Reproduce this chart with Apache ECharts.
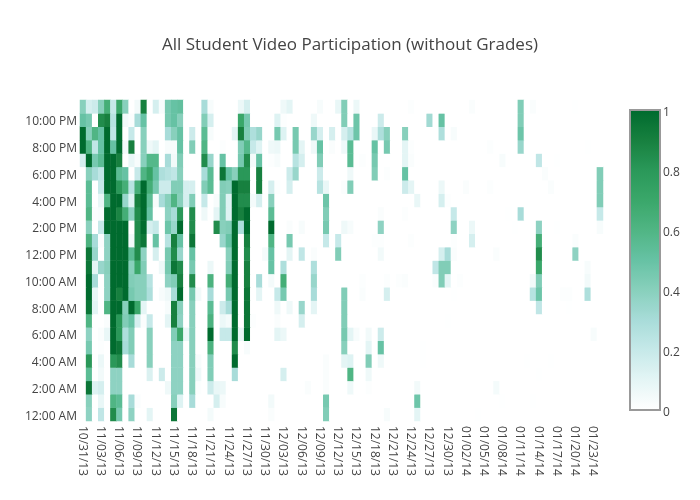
<!DOCTYPE html>
<html>
<head>
<meta charset="utf-8">
<title>All Student Video Participation</title>
<script src="https://cdn.jsdelivr.net/npm/echarts@6/dist/echarts.min.js"></script>
<style>
  html, body { margin: 0; background: #fff; }
  #chart { width: 700px; height: 500px; }
</style>
</head>
<body>
<div id="chart"></div>
<script>
// dates on the x axis, one per column
const dayLabels = [
  '10/31/13','11/01/13','11/02/13','11/03/13','11/04/13','11/05/13','11/06/13','11/07/13','11/08/13','11/09/13',
  '11/10/13','11/11/13','11/12/13','11/13/13','11/14/13','11/15/13','11/16/13','11/17/13','11/18/13','11/19/13',
  '11/20/13','11/21/13','11/22/13','11/23/13','11/24/13','11/25/13','11/26/13','11/27/13','11/28/13','11/29/13',
  '11/30/13','12/01/13','12/02/13','12/03/13','12/04/13','12/05/13','12/06/13','12/07/13','12/08/13','12/09/13',
  '12/10/13','12/11/13','12/12/13','12/13/13','12/14/13','12/15/13','12/16/13','12/17/13','12/18/13','12/19/13',
  '12/20/13','12/21/13','12/22/13','12/23/13','12/24/13','12/25/13','12/26/13','12/27/13','12/28/13','12/29/13',
  '12/30/13','12/31/13','01/01/14','01/02/14','01/03/14','01/04/14','01/05/14','01/06/14','01/07/14','01/08/14',
  '01/09/14','01/10/14','01/11/14','01/12/14','01/13/14','01/14/14','01/15/14','01/16/14','01/17/14','01/18/14',
  '01/19/14','01/20/14','01/21/14','01/22/14','01/23/14','01/24/14'
]
const hourLabels = [
  '12:00 AM','1:00 AM','2:00 AM','3:00 AM','4:00 AM','5:00 AM','6:00 AM','7:00 AM','8:00 AM','9:00 AM','10:00 AM','11:00 AM',
  '12:00 PM','1:00 PM','2:00 PM','3:00 PM','4:00 PM','5:00 PM','6:00 PM','7:00 PM','8:00 PM','9:00 PM','10:00 PM','11:00 PM'
]

// values per hour, keyed by day column; missing columns are 0
const hour23 = {0:.4,1:.15,2:.18,3:.4,4:.65,5:.2,6:.7,7:.4,9:.05,10:.9,12:.15,13:.03,14:.45,15:.5,16:.52,20:.3,21:.03,26:.07,27:.15,33:.06,34:.1,39:.03,42:.08,43:.42,45:.07,54:.01,64:.02,72:.42,74:.02,81:.005}
const hour22 = {0:.5,1:.45,3:.85,4:.9,5:.25,6:1,7:.05,8:.02,9:.3,10:.5,14:.45,15:.5,16:.4,20:.42,21:.15,26:.7,27:.45,32:.12,33:.01,38:.06,43:.42,45:.48,49:.18,57:.32,59:.5,72:.42}
const hour21 = {0:1,1:.4,2:.6,3:.5,4:1,5:.22,6:1,8:.2,10:.4,14:.3,15:.4,16:.5,18:.18,20:.55,21:.03,25:.1,26:.9,27:.42,28:.28,29:.35,32:.45,33:.12,35:.45,38:.35,39:.15,41:.15,43:.15,44:.25,45:.48,48:.08,49:.28,50:.4,53:.4,59:.28,61:.03,72:.48}
const hour20 = {0:1,1:.6,2:.22,3:.5,4:1,5:.5,6:1,7:.05,8:.9,10:.4,11:.06,12:.1,14:.03,15:.03,16:.5,18:.42,20:.6,23:.01,26:.42,27:.58,28:.2,29:.12,31:.06,32:.07,35:.45,36:.1,38:.06,39:.5,41:.02,43:.06,44:.55,48:.5,50:.45,53:.1,54:.01,67:.01,72:.35,83:.005}
const hour19 = {0:.15,1:1,2:.45,3:.55,4:1,5:1,6:.9,8:.08,9:.03,10:.4,11:.58,12:.58,14:.3,15:.05,16:.42,20:.85,21:.35,23:.5,26:.45,27:.85,28:.04,29:.5,31:.01,32:.03,35:.25,36:.15,39:.42,44:.55,46:.01,48:.45,53:.1,54:.02,69:.03,75:.22,78:.005}
const hour18 = {1:.4,2:.3,3:.22,4:1,5:1,6:.55,7:.5,9:.2,10:.6,11:.72,12:.5,13:.28,14:.25,15:.22,16:.4,20:.3,21:.55,23:.95,24:.5,25:.4,26:.8,27:.8,29:.9,34:.18,35:.35,39:.18,44:.06,48:.42,50:.01,53:.5,76:.02,85:.42}
const hour17 = {1:.55,3:.2,4:1,5:1,6:.8,7:.65,8:.25,9:.65,10:1,11:.65,12:.45,13:.18,14:.18,15:.42,16:.42,17:.15,18:.15,20:.42,21:.55,23:.42,24:.4,25:1,26:.9,27:.9,29:.9,31:.15,32:.01,34:.15,39:.25,40:.08,43:.02,44:.42,53:.18,54:.1,59:.07,63:.02,67:.01,77:.02,85:.42}
const hour16 = {1:.55,3:.08,4:.6,5:1,6:1,7:.35,8:.12,9:.9,10:1,11:.55,12:.03,13:.3,14:.4,15:.6,16:.4,17:.15,18:.42,20:.2,22:.03,23:.42,24:.12,25:1,26:.85,27:.85,28:.04,29:.15,31:.4,40:.48,55:.08,59:.15,60:.01,85:.42}
const hour15 = {1:.6,2:.02,3:.03,4:1,5:1,6:.88,7:.65,8:.38,9:.85,10:1,11:.5,14:.38,15:.3,16:.8,18:.85,20:.06,22:.1,23:.42,24:.12,25:1,26:.9,27:1,31:.55,40:.42,49:.02,53:.01,61:.2,70:.005,72:.3,85:.2}
const hour14 = {1:.4,3:.2,4:1,5:1,6:1,7:1,9:.85,10:1,11:.15,12:.2,14:.48,15:.35,16:1,18:.85,22:.85,23:.4,24:.42,25:1,26:.28,27:1,31:1,34:.02,36:.03,40:.45,43:.06,44:.03,49:.38,61:.38,64:.07,71:.005,75:.38,78:.005,85:.03}
const hour13 = {1:.62,2:.3,3:.02,4:.38,5:1,6:1,7:1,8:.05,9:.85,10:.95,12:.5,14:.25,15:.9,16:.5,18:.95,23:.35,24:.5,25:1,27:.9,31:.6,34:.45,40:.2,42:.2,48:.01,49:.01,54:.01,61:.01,64:.15,75:.65,81:.02}
const hour12 = {1:.95,2:.35,4:.38,5:1,6:1,7:1,8:.55,9:.85,10:.38,12:.15,14:.45,15:.85,16:.35,18:.5,24:.4,25:1,27:.85,30:.04,31:.5,34:.1,36:.22,38:.02,42:.42,49:.05,59:.15,60:.3,61:.02,68:.02,75:.85,81:.38}
const hour11 = {1:.95,2:.1,3:.35,4:.4,5:1,6:1,7:1,8:.4,9:.7,10:.42,13:.06,14:.45,15:.95,16:.85,18:.45,21:.07,24:.42,25:1,27:.9,31:.5,33:.28,38:.28,58:.22,59:.42,60:.42,75:.7,83:.03}
const hour10 = {1:1,2:.3,4:.38,5:1,6:1,7:1,8:.42,9:.4,10:.4,11:.25,14:.38,15:.42,16:.9,18:.85,21:.62,24:.65,25:1,27:.9,29:.3,31:.04,33:.65,38:.35,46:.01,50:.01,52:.01,53:.02,58:.02,59:.42,60:.1,62:.01,74:.05,75:.42,83:.05}
const hour9 = {1:1,2:.08,4:.38,5:1,6:.9,7:1,8:.45,9:.4,10:.4,11:.28,13:.03,14:.06,15:.3,16:1,18:.45,19:.05,21:.3,24:.45,25:1,27:.95,29:.1,32:.2,33:.45,38:.3,43:.42,46:.02,50:.15,61:.005,74:.25,75:.48,79:.01,80:.01,83:.28}
const hour8 = {1:.95,2:.1,4:.6,5:1,6:1,7:.4,8:1,9:.7,10:.1,14:.03,15:.9,16:.4,18:.4,21:.55,23:.18,24:.3,25:1,27:.95,32:.06,34:.06,36:.35,38:.1,43:.42,75:.22,80:.005}
const hour7 = {1:.6,4:.02,5:1,6:.8,7:.42,8:.5,9:.15,10:.02,11:.2,14:.1,15:.9,16:.38,18:.4,21:.62,23:.07,24:.04,25:1,27:.95,28:.01,32:.02,36:.15,43:.42,60:.005}
const hour6 = {1:.38,3:.02,4:.08,5:1,6:.8,7:.28,8:.42,11:.4,15:.42,16:.7,17:.08,18:.4,21:1,23:.2,24:.2,25:1,26:.08,27:1,32:.1,33:.07,43:.45,44:.1,45:.03,47:.05,49:.18,84:.03}
const hour5 = {1:.45,3:.01,5:1,6:.95,7:.3,8:.42,11:.4,15:.38,16:.38,18:.4,21:.62,25:.85,27:.03,43:.4,47:.1,49:.5,56:.005}
const hour4 = {1:.8,3:.07,5:.8,6:.85,8:.3,11:.4,15:.38,16:.38,18:.4,19:.03,21:.42,25:1,40:.02,43:.1,44:.12,47:.42,49:.06,56:.005,73:.005,77:.005}
const hour3 = {1:.55,3:.05,5:.38,6:.38,11:.13,13:.18,15:.38,16:.38,18:.4,19:.06,21:.42,25:.3,33:.15,40:.02,44:.6,47:.06,75:.005}
const hour2 = {1:.95,2:.12,3:.15,5:.38,6:.38,14:.06,15:.38,16:.38,18:.4,19:.01,21:.18,22:.08,23:.07,37:.02,40:.02,44:.06,47:.01,55:.05,68:.04}
const hour1 = {1:.4,3:.08,5:.6,6:.55,8:.3,9:.02,15:.4,16:.12,18:.3,22:.15,23:.03,31:.05,40:.45,55:.48,69:.005,74:.005}
const hour0 = {1:.38,3:.22,5:.85,6:.45,8:.38,11:.1,15:.95,21:.04,31:.02,40:.42,50:.03,55:.1,65:.005}

const hourRows = [
  hour0, hour1, hour2, hour3, hour4, hour5, hour6, hour7, hour8, hour9, hour10, hour11,
  hour12, hour13, hour14, hour15, hour16, hour17, hour18, hour19, hour20, hour21, hour22, hour23
]

// colour stops
const rampColors = ['#ffffff', '#e4f5f5', '#c6e9e9', '#a8dcd9', '#88d0bc', '#66c2a4', '#50b584', '#3aa76a', '#2a9859', '#17803f', '#006b2e']

const cells = []
hourRows.forEach((row, h) => {
  dayLabels.forEach((d, c) => {
    cells.push([c, h, row[c] || 0])
  })
})

const font = '"Open Sans", "Noto Sans", sans-serif'

const chart = echarts.init(document.getElementById('chart'))
chart.setOption({
  animation: false,
  backgroundColor: '#fff',
  title: {
    text: 'All Student Video Participation (without Grades)',
    left: 345,
    top: 32,
    textAlign: 'center',
    textStyle: { fontFamily: font, fontSize: 17, fontWeight: 'normal', color: '#444' }
  },
  grid: [
    { left: 80, top: 100, width: 523, height: 321, show: false },
    // frame and tick labels of the colour bar
    { left: 630, top: 110, width: 30, height: 300, show: true, z: 10, backgroundColor: 'transparent', borderColor: '#999', borderWidth: 2 }
  ],
  xAxis: [
    {
      type: 'category',
      data: dayLabels,
      gridIndex: 0,
      axisLine: { show: false },
      axisTick: { show: false },
      splitLine: { show: false },
      axisLabel: { interval: 2, rotate: -90, margin: 5, verticalAlign: 'top', padding: [-5, 0, 0, 0], fontFamily: font, fontSize: 12, color: '#444' }
    },
    { type: 'value', gridIndex: 1, show: false, min: 0, max: 1 }
  ],
  yAxis: [
    {
      type: 'category',
      data: hourLabels,
      gridIndex: 0,
      axisLine: { show: false },
      axisTick: { show: false },
      splitLine: { show: false },
      // labels sit a little below the row centre in the reference
      axisLabel: { interval: 1, margin: 3, verticalAlign: 'top', padding: [-4, 0, 0, 0], fontFamily: font, fontSize: 12, color: '#444' }
    },
    {
      type: 'value',
      gridIndex: 1,
      position: 'right',
      min: 0,
      max: 1,
      interval: 0.2,
      z: 10,
      axisLine: { show: false },
      axisTick: { show: false },
      splitLine: { show: false },
      axisLabel: { margin: 3, verticalAlign: 'top', padding: [-3, 0, 0, 0], fontFamily: font, fontSize: 12, color: '#444' }
    }
  ],
  visualMap: {
    type: 'continuous',
    seriesIndex: 0,
    min: 0,
    max: 1,
    calculable: false,
    hoverLink: false,
    left: 630,
    top: 110,
    padding: 0,
    itemWidth: 30,
    itemHeight: 300,
    text: null,
    inRange: { color: rampColors }
  },
  series: [
    {
      type: 'heatmap',
      data: cells,
      progressive: 0,
      emphasis: { disabled: true }
    }
  ]
})
</script>
</body>
</html>
